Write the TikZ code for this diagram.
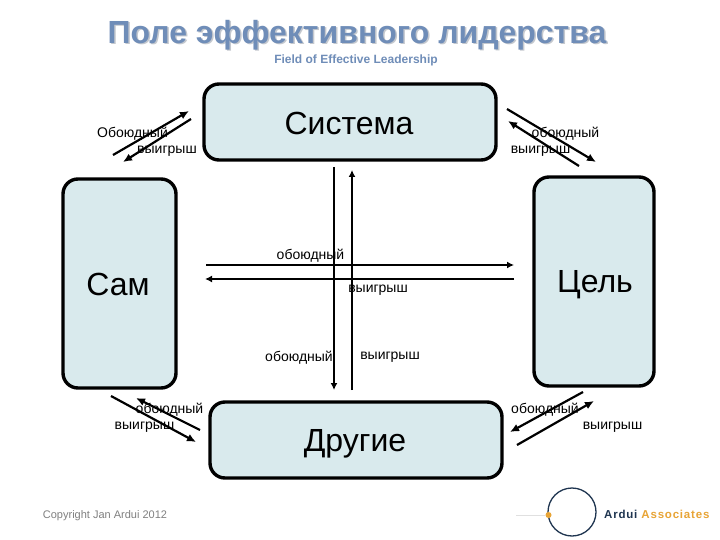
\documentclass[tikz,border=0pt]{standalone}
\usepackage{fontspec}
\setmainfont{Liberation Sans}
\usetikzlibrary{arrows.meta}
\definecolor{boxfill}{HTML}{D9EAED}
\definecolor{titleblue}{HTML}{6F8DB8}
\definecolor{titleshade}{HTML}{C4C8CE}
\definecolor{logonavy}{HTML}{1F3550}
\definecolor{logoorange}{HTML}{E8A435}
\tikzset{
  x=1pt,y=-1pt,
  bigbox/.style={draw=black,line width=3.4pt,fill=boxfill,rounded corners=15pt,inner sep=0pt},
  boxlabel/.style={font=\fontsize{32}{35}\selectfont,text=black,inner sep=0pt},
  small/.style={font=\fontsize{14}{16}\selectfont,text=black,inner sep=0pt},
  diag/.style={line width=2.2pt,-{Latex[length=9pt,width=8pt]}},
  axis/.style={line width=1.7pt,-{Latex[length=7pt,width=7pt]}},
}
\begin{document}
\begin{tikzpicture}
\useasboundingbox (0,0) rectangle (720,540);
\fill[white] (0,0) rectangle (720,540);
% title
\node[font=\fontsize{32}{35}\bfseries\selectfont,text=titleshade,inner sep=0pt] (titleshadow) at (358.5,36.5) {Поле эффективного лидерства};
\node[font=\fontsize{32}{35}\bfseries\selectfont,text=titleblue,inner sep=0pt] (title) at (357,35) {Поле эффективного лидерства};
\node[font=\fontsize{12}{14}\bfseries\selectfont,text=titleblue,inner sep=0pt] (subtitle) at (356,60) {Field of Effective Leadership};
% boxes
\draw[bigbox] (204,84) rectangle (496,160);
\draw[bigbox] (63,179) rectangle (176,388);
\draw[bigbox] (534,177) rectangle (654,386);
\draw[bigbox] (210,402) rectangle (502,478);
\node[boxlabel] (sys) at (349,123) {Система};
\node[boxlabel] (self) at (118,284.5) {Сам};
\node[boxlabel] (goal) at (595,285) {Цель};
\node[boxlabel] (others) at (355,444) {Другие};
% end points
\coordinate (a1) at (113,155); \coordinate (a2) at (189,111);
\coordinate (a3) at (191,119); \coordinate (a4) at (123,162);
\coordinate (b1) at (507,109); \coordinate (b2) at (596,162);
\coordinate (b3) at (579,166); \coordinate (b4) at (508,121);
\coordinate (c1) at (111,396); \coordinate (c2) at (196,442);
\coordinate (c3) at (200,430); \coordinate (c4) at (136,398);
\coordinate (d1) at (583,392); \coordinate (d2) at (510,432);
\coordinate (d3) at (517,445); \coordinate (d4) at (594,401);
\coordinate (v1) at (334,167); \coordinate (v2) at (334,390);
\coordinate (v3) at (352,390); \coordinate (v4) at (352,170);
\coordinate (h1) at (206,265); \coordinate (h2) at (514,265);
\coordinate (h3) at (514,279); \coordinate (h4) at (205,279);
% arrows
\draw[diag] (a1) -- (a2);
\draw[diag] (a3) -- (a4);
\draw[diag] (b1) -- (b2);
\draw[diag] (b3) -- (b4);
\draw[diag] (c1) -- (c2);
\draw[diag] (c3) -- (c4);
\draw[diag] (d1) -- (d2);
\draw[diag] (d3) -- (d4);
\draw[axis] (v1) -- (v2);
\draw[axis] (v3) -- (v4);
\draw[axis] (h1) -- (h2);
\draw[axis] (h3) -- (h4);
% labels
\node[small] (l1) at (132.5,133.5) {Обоюдный};
\node[small] (l2) at (167,151.5) {выигрыш};
\node[small] (l3) at (565.5,133.5) {обоюдный};
\node[small] (l4) at (540.5,151.5) {выигрыш};
\node[small] (l5) at (169.5,409.5) {обоюдный};
\node[small] (l6) at (144.5,427.5) {выигрыш};
\node[small] (l7) at (545,409.5) {обоюдный};
\node[small] (l8) at (612.5,427.5) {выигрыш};
\node[small] (l9) at (310.5,255.5) {обоюдный};
\node[small] (l10) at (378,290.5) {выигрыш};
\node[small] (l11) at (299,357.5) {обоюдный};
\node[small] (l12) at (390,357.5) {выигрыш};
% footer
\node[font=\fontsize{11}{13}\selectfont,text=black!50,inner sep=0pt] (copy) at (105,516) {Copyright Jan Ardui 2012};
% logo
\draw[logonavy,line width=1.3pt] (572,512) circle[radius=24];
\draw[black!12,line width=1pt] (516,515) -- (545,515);
\fill[logoorange] (548.5,515) circle[radius=3];
\node[anchor=west,font=\fontsize{11.5}{13}\bfseries\selectfont,inner sep=0pt] (logo) at (604,514) {\addfontfeatures{LetterSpace=7}\textcolor{logonavy}{Ardui}\hspace{4pt}\textcolor{logoorange}{Associates}};
\end{tikzpicture}
\end{document}
